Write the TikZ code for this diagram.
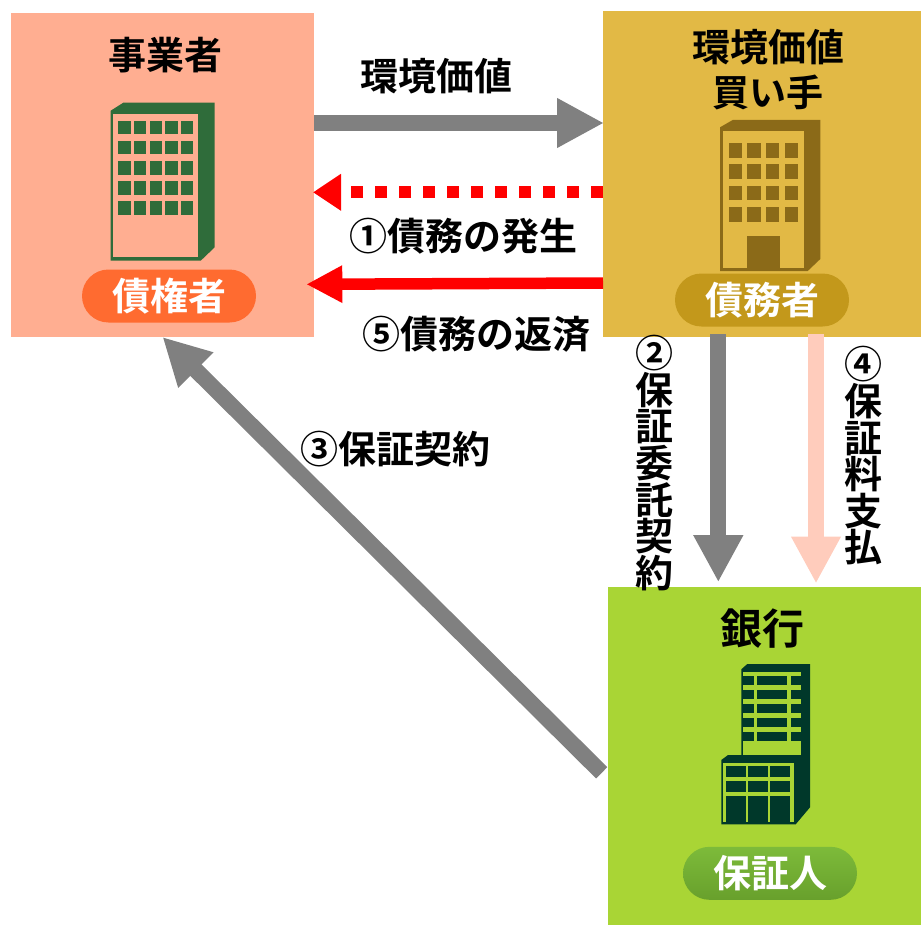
\documentclass[tikz,border=0pt]{standalone}
\usepackage{fontspec}
\setmainfont{Noto Sans CJK JP}[BoldFont={Noto Sans CJK JP Bold}]
\usetikzlibrary{arrows.meta,shapes.misc}
\definecolor{salmon}{HTML}{FFAE91}
\definecolor{goldbg}{HTML}{E2B945}
\definecolor{greenbg}{HTML}{A9D535}
\definecolor{orangepill}{HTML}{FF6B30}
\definecolor{goldpill}{HTML}{C3981B}
\definecolor{greenpilltop}{HTML}{7DBB3A}
\definecolor{greenpillbot}{HTML}{68A02C}
\definecolor{greenbld}{HTML}{2F6C3A}
\definecolor{goldbld}{HTML}{8B6A18}
\definecolor{darkbld}{HTML}{00382A}
\definecolor{greyarrow}{HTML}{808080}
\definecolor{pinkarrow}{HTML}{FFCCBC}
\definecolor{redarrow}{HTML}{FF0000}
\tikzset{
  panel/.style={draw=none,inner sep=0pt,outer sep=0pt,anchor=north west},
  pill/.style={rounded rectangle,draw=none,inner sep=0pt,outer sep=0pt,minimum width=174pt,minimum height=53pt,text=white,font=\fontsize{38}{38}\selectfont\bfseries},
  lbl/.style={inner sep=0pt,outer sep=0pt,font=\fontsize{38}{38}\selectfont\bfseries,text=black},
  vlbl/.style={lbl,align=center,font=\fontsize{38}{36.6}\selectfont\bfseries},
  bigarrow/.style={line width=16pt,-{Triangle[length=47pt,width=46.5pt]}},
  redhead/.style={redarrow,-{Triangle[length=28pt,width=35pt]}},
}
\begin{document}
\begin{tikzpicture}[x=1pt,y=-1pt]
\useasboundingbox (0,0) rectangle (921,925);
% panels
\node[panel,fill=salmon,minimum width=303pt,minimum height=324pt] (seller) at (11,13) {};
\node[panel,fill=goldbg,minimum width=318pt,minimum height=326pt] (buyer) at (603,11) {};
\node[panel,fill=greenbg,minimum width=313pt,minimum height=338pt] (bank) at (608,587) {};
% building 1
\fill[greenbld] (110.7,110.7) -- (123.3,102.7) -- (214.7,102.7) -- (214.7,247.3) -- (200.7,260.7) -- (110.7,260.7) -- cycle;
\fill[salmon] (113.3,114.3) rectangle (197.7,257.3);
\foreach \i in {0,...,4} \foreach \j in {0,...,4}
  \fill[greenbld] ({118.3+15.6*\i},{120.7+20.2*\j}) rectangle +(12.5,13.5);
% building 2
\fill[goldbld] (720,127.3) -- (732.7,120) -- (820.3,120) -- (820.3,259) -- (807.7,271) -- (720,271) -- cycle;
\fill[goldbg] (722.7,131.3) rectangle (804,267.7);
\foreach \i in {0,...,3} \foreach \j in {0,...,3}
  \fill[goldbld] ({728.7+18.7*\i},{143+21.4*\j}) rectangle +(13.3,14.7);
\fill[goldbld] (747,235.7) rectangle (779.7,271);
% building 3
\fill[darkbld] (741.3,669.3) -- (747.3,664) -- (810,664) -- (810,807.3) -- (795.7,824.3) -- (721.3,824.3) -- (721.3,760) -- (728,755) -- (741.3,755) -- cycle;
\fill[greenbg] (743,671.7) rectangle (801,755);
\foreach \j in {0,...,4} {
  \fill[darkbld] (743,{676+14*\j}) rectangle +(11,9.4);
  \fill[darkbld] (757.3,{676+14*\j}) rectangle +(30,9.4);
  \fill[darkbld] (790.7,{676+14*\j}) rectangle +(10.3,9.4);
}
\fill[greenbg] (722.7,762.7) rectangle (794,822.3);
\foreach \x in {726,748.3,770.3} {
  \fill[darkbld] (\x,766) rectangle +(20,11.3);
  \fill[darkbld] (\x,781) rectangle +(20,11.3);
  \fill[darkbld] (\x,796) rectangle +(20,26.3);
}
% pills
\node[pill,fill=orangepill] (creditor) at (169,296) {債権者};
\node[pill,fill=goldpill] (debtor) at (762,300) {債務者};
\node[pill,top color=greenpilltop,bottom color=greenpillbot] (guarantor) at (770,873.3) {保証人};
% titles
\node[lbl] (t1) at (165,55) {事業者};
\node[lbl] (t2) at (768,47) {環境価値};
\node[lbl,font=\fontsize{37}{37}\selectfont\bfseries] (t3) at (768,92) {買い手};
\node[lbl,font=\fontsize{42}{42}\selectfont\bfseries] (t4) at (762,629) {銀行};
% labels
\node[lbl] (l1) at (436,76) {環境価値};
\node[lbl] (l2) at (463.5,236) {①債務の発生};
\node[lbl] (l3) at (476.5,334) {⑤債務の返済};
\node[lbl] (l4) at (395,449) {③保証契約};
\node[vlbl] (l5) at (654,463) {②\\保\\証\\委\\託\\契\\約};
\node[vlbl] (l6) at (863,456) {④\\保\\証\\料\\支\\払};
% connectors
\draw[bigarrow,greyarrow] ([yshift=52pt]seller.east) -- ([xshift=1pt,yshift=51pt]buyer.west);
\draw[redhead,line width=12.3pt,dash pattern=on 12pt off 12pt] ([yshift=-18.3pt]buyer.west) -- ([xshift=-1pt,yshift=-17.3pt]seller.east);
\draw[redarrow,line width=11.5pt,-{Triangle[length=36pt,width=35pt]}] ([yshift=-109pt]buyer.west) -- ([xshift=-7.7pt,yshift=-109.3pt]seller.east);
\draw[bigarrow,greyarrow] ([xshift=-43.7pt,yshift=3pt]buyer.south) -- ([xshift=-46.2pt,yshift=4.8pt]bank.north);
\draw[bigarrow,pinkarrow] ([xshift=54pt,yshift=3pt]buyer.south) -- ([xshift=51.5pt,yshift=3.5pt]bank.north);
\draw[bigarrow,greyarrow] ([xshift=-6.3pt,yshift=-16.8pt]bank.west) -- (seller.south);
\end{tikzpicture}
\end{document}
